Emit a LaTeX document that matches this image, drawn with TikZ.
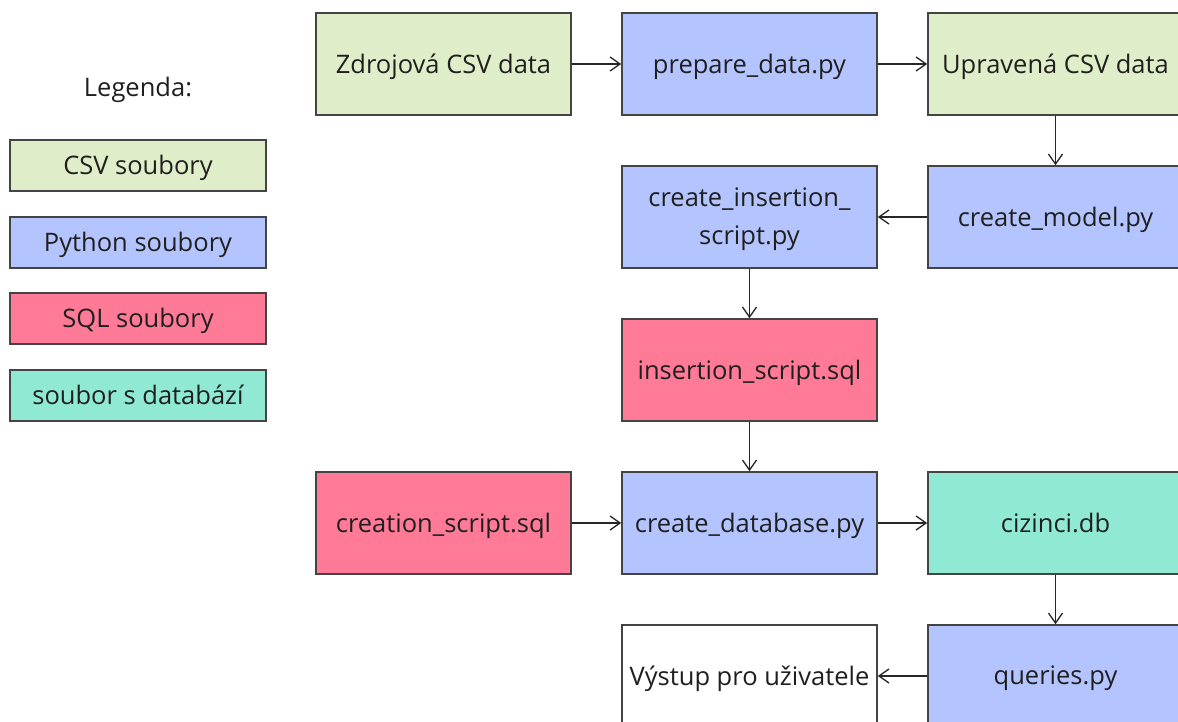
\documentclass[tikz,border=0pt]{standalone}
\usepackage{fontspec}
\setmainfont{Open Sans}
\usetikzlibrary{arrows.meta}
\definecolor{csvc}{RGB}{224,237,201}
\definecolor{pyc}{RGB}{180,196,255}
\definecolor{sqlc}{RGB}{255,122,150}
\definecolor{dbc}{RGB}{144,234,211}
\definecolor{bordc}{RGB}{68,68,68}
\tikzset{
  txt/.style={font=\fontsize{25.5}{38}\selectfont, text=black!88},
  box/.style={txt, draw=bordc, line width=1.6pt, minimum width=255pt, minimum height=102pt,
    inner sep=0pt, align=center, text depth=1pt},
  legbox/.style={txt, draw=bordc, line width=1.6pt, minimum width=256pt, minimum height=51pt,
    inner sep=0pt, align=center, text depth=1pt},
  conn/.style={line width=1.3pt, draw=black!85, -{Straight Barb[length=10pt,width=14pt,line width=1.3pt]}}
}
\begin{document}
\begin{tikzpicture}[x=1pt,y=-1pt]
\useasboundingbox (0,0) rectangle (1178,722);
\clip (0,0) rectangle (1178,722);
\fill[white] (0,0) rectangle (1178,722);
% legend
\node[txt] (leg) at (138,90) {Legenda:};
\node[legbox, fill=csvc] (l1) at (138,165.5) {CSV soubory};
\node[legbox, fill=pyc] (l2) at (138,242.5) {Python soubory};
\node[legbox, fill=sqlc] (l3) at (138,318.5) {SQL soubory};
\node[legbox, fill=dbc] (l4) at (138,395.5) {soubor s databází};
% main
\node[box, fill=csvc] (zdroj) at (443.5,64) {Zdrojová CSV data};
\node[box, fill=pyc] (prep) at (749.5,64) {prepare\_data.py};
\node[box, fill=csvc] (uprav) at (1055.5,64) {Upravená CSV data};
\node[box, fill=pyc] (model) at (1055.5,217) {create\_model.py};
\node[box, fill=pyc] (cins) at (749.5,217) {create\_insertion\_\\script.py};
\node[box, fill=sqlc] (isql) at (749.5,370) {insertion\_script.sql};
\node[box, fill=sqlc] (csql) at (443.5,523) {creation\_script.sql};
\node[box, fill=pyc] (cdb) at (749.5,523) {create\_database.py};
\node[box, fill=dbc] (db) at (1055.5,523) {cizinci.db};
\node[box, fill=pyc] (q) at (1055.5,676) {queries.py};
\node[box, fill=white] (out) at (749.5,676) {Výstup pro uživatele};
% connectors
\draw[conn] (zdroj) -- (prep);
\draw[conn] (prep) -- (uprav);
\draw[conn] (uprav) -- (model);
\draw[conn] (model) -- (cins);
\draw[conn] (cins) -- (isql);
\draw[conn] (isql) -- (cdb);
\draw[conn] (csql) -- (cdb);
\draw[conn] (cdb) -- (db);
\draw[conn] (db) -- (q);
\draw[conn] (q) -- (out);
\end{tikzpicture}
\end{document}
